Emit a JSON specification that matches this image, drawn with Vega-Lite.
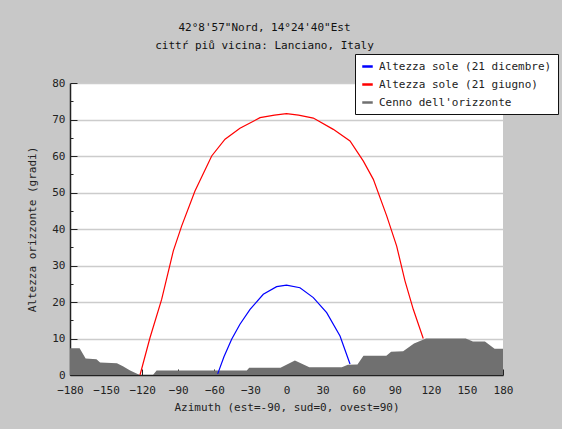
{
  "$schema": "https://vega.github.io/schema/vega-lite/v6.json",
  "width": 433,
  "height": 292,
  "autosize": "none",
  "padding": {"left": 70, "top": 83, "right": 59, "bottom": 54},
  "background": "#c8c8c8",
  "view": {"fill": "white", "stroke": null},
  "config": {
    "font": "DejaVu Sans Mono",
    "axis": {"labelFont": "DejaVu Sans Mono", "titleFont": "DejaVu Sans Mono", "labelFontSize": 11, "titleFontSize": 11, "titleFontWeight": "normal", "labelColor": "#222", "titleColor": "#222", "domainColor": "#222", "tickColor": "#222"},
    "legend": {"labelFont": "DejaVu Sans Mono", "labelFontSize": 11, "labelColor": "#222"}
  },
  "title": {
    "text": ["42°8'57\"Nord, 14°24'40\"Est", "cittŕ piů vicina:  Lanciano, Italy"],
    "font": "DejaVu Sans Mono",
    "fontSize": 11,
    "fontWeight": "normal",
    "color": "#111",
    "lineHeight": 18,
    "anchor": "middle",
    "frame": "group",
    "dx": -22,
    "offset": 3
  },
  "datasets": {
    "horizon": [
      {"series": "Cenno dell'orizzonte", "az": -180, "alt": 7.3},
      {"series": "Cenno dell'orizzonte", "az": -172, "alt": 7.3},
      {"series": "Cenno dell'orizzonte", "az": -167, "alt": 4.5},
      {"series": "Cenno dell'orizzonte", "az": -158, "alt": 4.3},
      {"series": "Cenno dell'orizzonte", "az": -155, "alt": 3.4},
      {"series": "Cenno dell'orizzonte", "az": -141, "alt": 3.2},
      {"series": "Cenno dell'orizzonte", "az": -136, "alt": 2.4},
      {"series": "Cenno dell'orizzonte", "az": -130, "alt": 1.2},
      {"series": "Cenno dell'orizzonte", "az": -122, "alt": 0},
      {"series": "Cenno dell'orizzonte", "az": -111, "alt": 0},
      {"series": "Cenno dell'orizzonte", "az": -108, "alt": 1.2},
      {"series": "Cenno dell'orizzonte", "az": -33, "alt": 1.2},
      {"series": "Cenno dell'orizzonte", "az": -31, "alt": 2.0},
      {"series": "Cenno dell'orizzonte", "az": -5, "alt": 2.0},
      {"series": "Cenno dell'orizzonte", "az": 7, "alt": 4.0},
      {"series": "Cenno dell'orizzonte", "az": 19, "alt": 2.1},
      {"series": "Cenno dell'orizzonte", "az": 46, "alt": 2.1},
      {"series": "Cenno dell'orizzonte", "az": 51, "alt": 2.8},
      {"series": "Cenno dell'orizzonte", "az": 59, "alt": 2.9},
      {"series": "Cenno dell'orizzonte", "az": 64, "alt": 5.3},
      {"series": "Cenno dell'orizzonte", "az": 83, "alt": 5.3},
      {"series": "Cenno dell'orizzonte", "az": 87, "alt": 6.4},
      {"series": "Cenno dell'orizzonte", "az": 97, "alt": 6.5},
      {"series": "Cenno dell'orizzonte", "az": 106, "alt": 8.6},
      {"series": "Cenno dell'orizzonte", "az": 116, "alt": 10.0},
      {"series": "Cenno dell'orizzonte", "az": 149, "alt": 10.0},
      {"series": "Cenno dell'orizzonte", "az": 155, "alt": 9.2},
      {"series": "Cenno dell'orizzonte", "az": 165, "alt": 9.2},
      {"series": "Cenno dell'orizzonte", "az": 173, "alt": 7.2},
      {"series": "Cenno dell'orizzonte", "az": 180, "alt": 7.2}
    ],
    "sun": [
      {"series": "Altezza sole (21 giugno)", "az": -121.8, "alt": 0},
      {"series": "Altezza sole (21 giugno)", "az": -113.5, "alt": 10.2},
      {"series": "Altezza sole (21 giugno)", "az": -103.8, "alt": 20.7},
      {"series": "Altezza sole (21 giugno)", "az": -94.1, "alt": 34.0},
      {"series": "Altezza sole (21 giugno)", "az": -87.2, "alt": 40.8},
      {"series": "Altezza sole (21 giugno)", "az": -76.1, "alt": 50.4},
      {"series": "Altezza sole (21 giugno)", "az": -62.2, "alt": 60.0},
      {"series": "Altezza sole (21 giugno)", "az": -51.1, "alt": 64.6},
      {"series": "Altezza sole (21 giugno)", "az": -38.7, "alt": 67.6},
      {"series": "Altezza sole (21 giugno)", "az": -22.0, "alt": 70.5},
      {"series": "Altezza sole (21 giugno)", "az": -10.0, "alt": 71.2},
      {"series": "Altezza sole (21 giugno)", "az": 0, "alt": 71.6},
      {"series": "Altezza sole (21 giugno)", "az": 10.0, "alt": 71.2},
      {"series": "Altezza sole (21 giugno)", "az": 22.3, "alt": 70.4},
      {"series": "Altezza sole (21 giugno)", "az": 38.9, "alt": 67.3},
      {"series": "Altezza sole (21 giugno)", "az": 52.8, "alt": 64.1},
      {"series": "Altezza sole (21 giugno)", "az": 63.9, "alt": 58.6},
      {"series": "Altezza sole (21 giugno)", "az": 72.2, "alt": 53.6},
      {"series": "Altezza sole (21 giugno)", "az": 83.3, "alt": 43.6},
      {"series": "Altezza sole (21 giugno)", "az": 91.6, "alt": 35.3},
      {"series": "Altezza sole (21 giugno)", "az": 98.5, "alt": 25.8},
      {"series": "Altezza sole (21 giugno)", "az": 105.4, "alt": 18.0},
      {"series": "Altezza sole (21 giugno)", "az": 113.7, "alt": 10.0},
      {"series": "Altezza sole (21 dicembre)", "az": -57.2, "alt": 0.3},
      {"series": "Altezza sole (21 dicembre)", "az": -52.0, "alt": 5.0},
      {"series": "Altezza sole (21 dicembre)", "az": -45.6, "alt": 9.8},
      {"series": "Altezza sole (21 dicembre)", "az": -38.7, "alt": 13.9},
      {"series": "Altezza sole (21 dicembre)", "az": -30.3, "alt": 18.0},
      {"series": "Altezza sole (21 dicembre)", "az": -19.3, "alt": 22.1},
      {"series": "Altezza sole (21 dicembre)", "az": -8.2, "alt": 24.2},
      {"series": "Altezza sole (21 dicembre)", "az": 0, "alt": 24.6},
      {"series": "Altezza sole (21 dicembre)", "az": 11.2, "alt": 23.9},
      {"series": "Altezza sole (21 dicembre)", "az": 22.3, "alt": 21.2},
      {"series": "Altezza sole (21 dicembre)", "az": 33.4, "alt": 17.1},
      {"series": "Altezza sole (21 dicembre)", "az": 44.5, "alt": 10.7},
      {"series": "Altezza sole (21 dicembre)", "az": 52.8, "alt": 3.0}
    ]
  },
  "encoding": {
    "x": {
      "field": "az", "type": "quantitative",
      "scale": {"domain": [-180, 180], "nice": false, "zero": false},
      "axis": {
        "title": "Azimuth (est=-90, sud=0, ovest=90)",
        "values": [-180, -150, -120, -90, -60, -30, 0, 30, 60, 90, 120, 150, 180],
        "grid": false,
        "tickSize": -6,
        "labelPadding": 15,
        "labelFlush": false,
        "titlePadding": 6,
        "domainWidth": 1.5
      }
    },
    "y": {
      "field": "alt", "type": "quantitative",
      "stack": null,
      "scale": {"domain": [0, 80], "nice": false},
      "axis": {
        "title": "Altezza orizzonte (gradi)",
        "values": [0, 5, 10, 15, 20, 25, 30, 35, 40, 45, 50, 55, 60, 65, 70, 75, 80],
        "labelExpr": "datum.value % 10 == 0 ? datum.label : ''",
        "grid": true,
        "gridColor": {"condition": {"test": "datum.value % 10 == 0 && datum.value > 0", "value": "#cccccc"}, "value": "rgba(0,0,0,0)"},
        "gridWidth": 1.5,
        "tickSize": {"condition": {"test": "datum.value % 10 == 0", "value": -7}, "value": -3},
        "labelPadding": 12,
        "labelFlush": false,
        "titlePadding": 14,
        "domainWidth": 1.5
      }
    },
    "color": {
      "field": "series", "type": "nominal",
      "scale": {
        "domain": ["Altezza sole (21 dicembre)", "Altezza sole (21 giugno)", "Cenno dell'orizzonte"],
        "range": ["#0000ff", "#ff0000", "#707070"]
      },
      "legend": {
        "title": null,
        "orient": "none",
        "legendX": 285,
        "legendY": -29,
        "fillColor": "white",
        "strokeColor": "#111",
        "padding": 6,
        "rowPadding": 6,
        "symbolType": "stroke",
        "symbolSize": 110,
        "symbolStrokeWidth": 2.5,
        "labelOffset": 5,
        "labelLimit": 300
      }
    }
  },
  "layer": [
    {
      "data": {"name": "horizon"},
      "mark": {"type": "area", "opacity": 1, "fillOpacity": 1},
      "encoding": {"y2": {"datum": 0}}
    },
    {
      "data": {"name": "sun"},
      "mark": {"type": "line", "strokeWidth": 1.2},
      "encoding": {"order": {"field": "az", "type": "quantitative"}}
    }
  ]
}
